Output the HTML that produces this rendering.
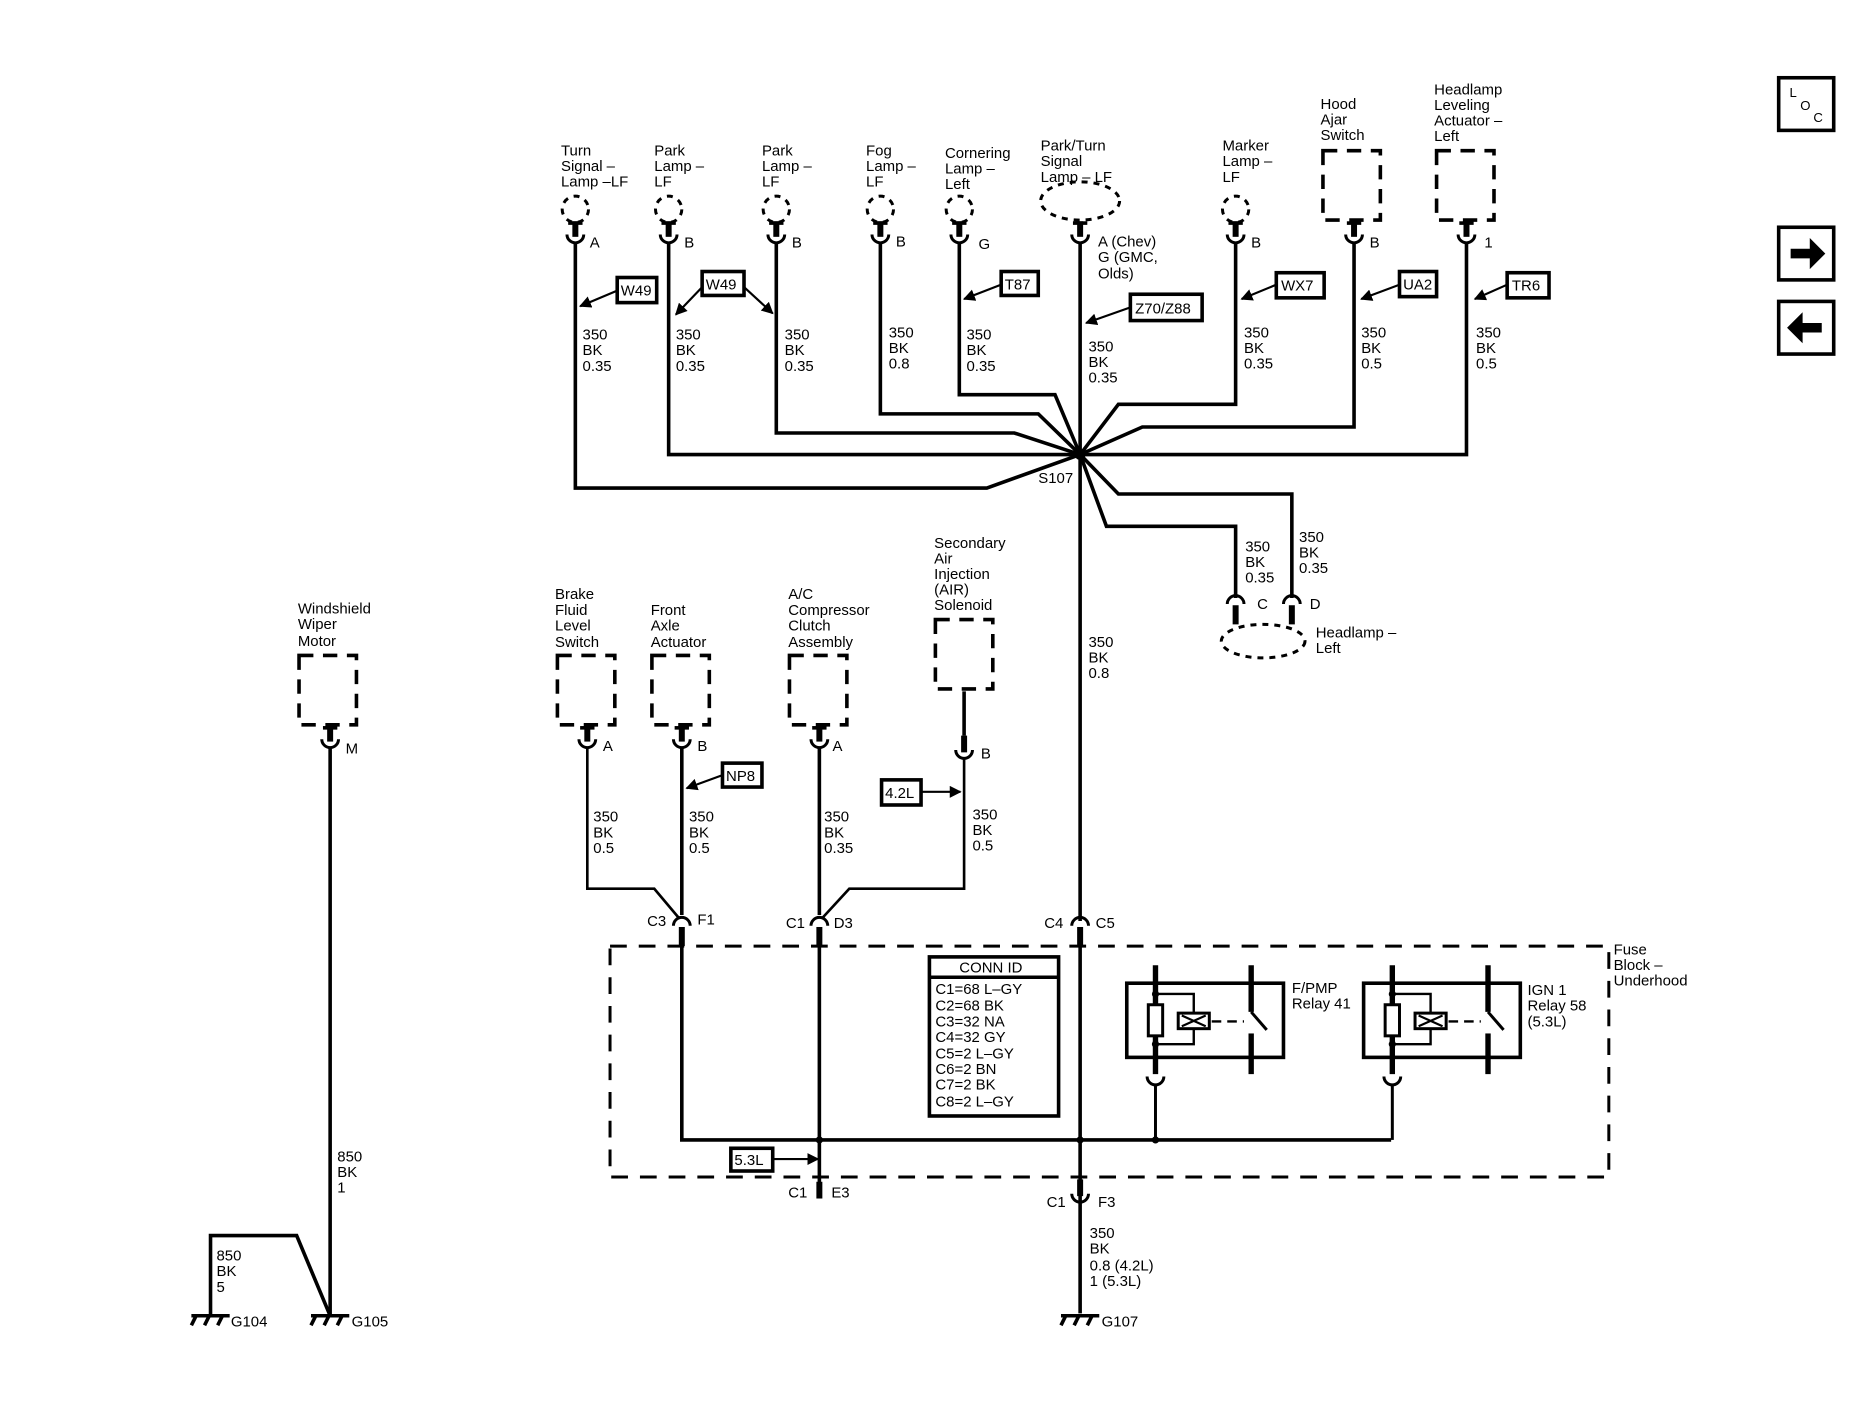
<!DOCTYPE html>
<html><head><meta charset="utf-8"><style>
html,body{margin:0;padding:0;background:#fff;}
svg{display:block;}
text{font-family:"Liberation Sans",Arial,sans-serif;font-size:12.5px;fill:#000;}
</style></head><body>
<svg width="1866" height="1407" viewBox="0 0 1560 1176.3" preserveAspectRatio="none" xmlns="http://www.w3.org/2000/svg">
<defs>
<g id="tc"><rect x="-6" y="-13" width="12" height="3"/><rect x="-2.5" y="-13" width="5" height="13"/><path d="M-7,-2 A7,7 0 0 0 7,-2" fill="none" stroke="#000" stroke-width="2.5"/></g>
<g id="bc"><path d="M-7,2 A7,7 0 0 1 7,2" fill="none" stroke="#000" stroke-width="2.5"/><rect x="-2.5" y="3" width="5" height="16"/></g>
<g id="uc"><rect x="-2.5" y="-14" width="5" height="14"/><path d="M-7,-2 A7,7 0 0 0 7,-2" fill="none" stroke="#000" stroke-width="2.5"/></g>
<g id="gnd"><line x1="-16" y1="0" x2="16" y2="0" stroke="#000" stroke-width="3"/><line x1="-12" y1="0" x2="-16" y2="8" stroke="#000" stroke-width="3"/><line x1="-1" y1="0" x2="-5" y2="8" stroke="#000" stroke-width="3"/><line x1="10" y1="0" x2="6" y2="8" stroke="#000" stroke-width="3"/></g>
<marker id="ah" viewBox="0 0 10 10" refX="9" refY="5" markerWidth="10" markerHeight="10" markerUnits="userSpaceOnUse" orient="auto"><path d="M0,0 L10,5 L0,10 z"/></marker>
</defs>

<rect x="1487" y="65" width="46" height="44" fill="none" stroke="#000" stroke-width="3"/>
<text x="1496" y="81" style="font-size:11px">L</text><text x="1505" y="92" style="font-size:11px">O</text><text x="1516" y="102" style="font-size:11px">C</text>
<rect x="1487" y="190" width="46" height="44" fill="none" stroke="#000" stroke-width="3"/>
<path d="M1497,208 h16 v-9 l13,13 -13,13 v-9 h-16 z"/>
<rect x="1487" y="252" width="46" height="44" fill="none" stroke="#000" stroke-width="3"/>
<path d="M1523,270 h-16 v-9 l-13,13 13,13 v-9 h16 z"/>

<text x="469" y="130">Turn</text><text x="469" y="143">Signal –</text><text x="469" y="156">Lamp –LF</text>
<text x="547" y="130">Park</text><text x="547" y="143">Lamp –</text><text x="547" y="156">LF</text>
<text x="637" y="130">Park</text><text x="637" y="143">Lamp –</text><text x="637" y="156">LF</text>
<text x="724" y="130">Fog</text><text x="724" y="143">Lamp –</text><text x="724" y="156">LF</text>
<text x="790" y="132">Cornering</text><text x="790" y="145">Lamp –</text><text x="790" y="158">Left</text>
<text x="870" y="126">Park/Turn</text><text x="870" y="139">Signal</text><text x="870" y="152">Lamp – LF</text>
<text x="1022" y="126">Marker</text><text x="1022" y="139">Lamp –</text><text x="1022" y="152">LF</text>
<text x="1104" y="91">Hood</text><text x="1104" y="104">Ajar</text><text x="1104" y="117">Switch</text>
<text x="1199" y="79">Headlamp</text><text x="1199" y="92">Leveling</text><text x="1199" y="105">Actuator –</text><text x="1199" y="118">Left</text>

<g fill="none" stroke="#000" stroke-width="2.5" stroke-dasharray="5,5">
<circle cx="481" cy="175" r="11"/><circle cx="559" cy="175" r="11"/><circle cx="649" cy="175" r="11"/>
<circle cx="736" cy="175" r="11"/><circle cx="802" cy="175" r="11"/><circle cx="1033" cy="175" r="11"/>
<ellipse cx="903" cy="168" rx="33" ry="16"/>
<ellipse cx="1056" cy="536" rx="35" ry="14"/>
</g>
<g fill="none" stroke="#000" stroke-width="3" stroke-dasharray="12,8">
<rect x="1106" y="126" width="48" height="58"/><rect x="1201" y="126" width="48" height="58"/>
<rect x="250" y="548" width="48" height="58"/>
<rect x="466" y="548" width="48" height="58"/><rect x="545" y="548" width="48" height="58"/><rect x="660" y="548" width="48" height="58"/>
<rect x="782" y="518" width="48" height="58"/>
<rect x="510" y="791" width="835" height="193" stroke-width="2.5" stroke-dasharray="14,10"/>
</g>

<use href="#tc" x="481" y="198"/><use href="#tc" x="559" y="198"/><use href="#tc" x="649" y="198"/>
<use href="#tc" x="736" y="198"/><use href="#tc" x="802" y="198"/><use href="#tc" x="903" y="198"/>
<use href="#tc" x="1033" y="198"/><use href="#tc" x="1132" y="198"/><use href="#tc" x="1226" y="198"/>
<text x="493" y="207">A</text><text x="572" y="207">B</text><text x="662" y="207">B</text><text x="749" y="206">B</text>
<text x="818" y="208">G</text><text x="918" y="206">A (Chev)</text><text x="918" y="219">G (GMC,</text><text x="918" y="233">Olds)</text>
<text x="1046" y="207">B</text><text x="1145" y="207">B</text><text x="1241" y="207">1</text>

<g fill="none" stroke="#000" stroke-width="3" stroke-linejoin="miter">
<path d="M481,203 V408 H825 L903,380"/>
<path d="M559,203 V380 H903"/>
<path d="M649,203 V362 H848 L903,380"/>
<path d="M736,203 V346 H868 L903,380"/>
<path d="M802,203 V330 H882 L903,380"/>
<path d="M903,203 V770"/>
<path d="M1033,203 V338 H935 L903,380"/>
<path d="M1132,203 V357 H955 L903,380"/>
<path d="M1226,203 V380 H903"/>
<path d="M903,380 L935,413 H1080 V500"/>
<path d="M903,380 L925,440 H1033 V500"/>
</g>
<circle cx="903" cy="380" r="4.5"/>
<text x="868" y="404">S107</text>

<use href="#bc" x="1033" y="503"/><use href="#bc" x="1080" y="503"/>
<text x="1051" y="509">C</text><text x="1095" y="509">D</text>
<text x="1100" y="533">Headlamp –</text><text x="1100" y="546">Left</text>
<text x="1041" y="461">350</text><text x="1041" y="474">BK</text><text x="1041" y="487">0.35</text>
<text x="1086" y="453">350</text><text x="1086" y="466">BK</text><text x="1086" y="479">0.35</text>

<g>
<text x="487" y="284">350</text><text x="487" y="297">BK</text><text x="487" y="310">0.35</text>
<text x="565" y="284">350</text><text x="565" y="297">BK</text><text x="565" y="310">0.35</text>
<text x="656" y="284">350</text><text x="656" y="297">BK</text><text x="656" y="310">0.35</text>
<text x="743" y="282">350</text><text x="743" y="295">BK</text><text x="743" y="308">0.8</text>
<text x="808" y="284">350</text><text x="808" y="297">BK</text><text x="808" y="310">0.35</text>
<text x="910" y="294">350</text><text x="910" y="307">BK</text><text x="910" y="320">0.35</text>
<text x="1040" y="282">350</text><text x="1040" y="295">BK</text><text x="1040" y="308">0.35</text>
<text x="1138" y="282">350</text><text x="1138" y="295">BK</text><text x="1138" y="308">0.5</text>
<text x="1234" y="282">350</text><text x="1234" y="295">BK</text><text x="1234" y="308">0.5</text>
<text x="910" y="541">350</text><text x="910" y="554">BK</text><text x="910" y="567">0.8</text>
</g>

<g fill="none" stroke="#000" stroke-width="3">
<rect x="516" y="232" width="33" height="21"/><rect x="587" y="227" width="35" height="20"/>
<rect x="837" y="227" width="31" height="20"/><rect x="945" y="246" width="60" height="22"/>
<rect x="1067" y="228" width="40" height="21"/><rect x="1170" y="227" width="31" height="21"/>
<rect x="1260" y="228" width="35" height="21"/>
<rect x="604" y="638" width="33" height="20"/><rect x="737" y="652" width="33" height="21"/>
<rect x="611" y="960" width="35" height="19"/>
</g>
<g stroke="#000" stroke-width="1.8" marker-end="url(#ah)">
<line x1="516" y1="243" x2="485" y2="256"/>
<line x1="587" y1="240" x2="565" y2="263"/><line x1="622" y1="240" x2="646" y2="262"/>
<line x1="837" y1="238" x2="806" y2="250"/><line x1="945" y1="257" x2="908" y2="270"/>
<line x1="1067" y1="238" x2="1038" y2="250"/><line x1="1170" y1="238" x2="1138" y2="250"/>
<line x1="1260" y1="238" x2="1233" y2="250"/>
<line x1="604" y1="648" x2="574" y2="659"/><line x1="770" y1="662" x2="803" y2="662"/>
<line x1="646" y1="969" x2="684" y2="969"/>
</g>
<g style="font-size:12px">
<text x="519" y="247">W49</text><text x="590" y="242">W49</text><text x="840" y="242">T87</text>
<text x="949" y="262">Z70/Z88</text><text x="1071" y="243">WX7</text><text x="1173" y="242">UA2</text>
<text x="1264" y="243">TR6</text><text x="607" y="653">NP8</text><text x="740" y="667">4.2L</text>
<text x="614" y="974">5.3L</text>
</g>

<text x="249" y="513">Windshield</text><text x="249" y="526">Wiper</text><text x="249" y="540">Motor</text>
<text x="464" y="501">Brake</text><text x="464" y="514">Fluid</text><text x="464" y="527">Level</text><text x="464" y="541">Switch</text>
<text x="544" y="514">Front</text><text x="544" y="527">Axle</text><text x="544" y="541">Actuator</text>
<text x="659" y="501">A/C</text><text x="659" y="514">Compressor</text><text x="659" y="527">Clutch</text><text x="659" y="541">Assembly</text>
<text x="781" y="458">Secondary</text><text x="781" y="471">Air</text><text x="781" y="484">Injection</text><text x="781" y="497">(AIR)</text><text x="781" y="510">Solenoid</text>

<use href="#tc" x="276" y="620"/><use href="#tc" x="491" y="620"/><use href="#tc" x="570" y="620"/><use href="#tc" x="685" y="620"/>
<use href="#uc" x="806" y="629"/>
<text x="289" y="630">M</text><text x="504" y="628">A</text><text x="583" y="628">B</text><text x="696" y="628">A</text><text x="820" y="634">B</text>

<g fill="none" stroke="#000" stroke-width="3">
<path d="M276,625 V1100"/>
<path d="M176,1100 V1033 H248 L276,1100"/>
<path d="M570,625 V765"/>
<path d="M685,625 V765"/>
<path d="M806,578 V615"/>
<path d="M570,790 V953 H1163"/>
<path d="M685,775 V990"/>
<path d="M903,775 V1098"/>
</g>
<g fill="none" stroke="#000" stroke-width="2.2">
<path d="M491,625 V743 H547 L568,768"/>
<path d="M806,634 V743 H710 L687,768"/>
</g>
<use href="#bc" x="570" y="772"/><use href="#bc" x="685" y="772"/><use href="#bc" x="903" y="772"/>
<text x="541" y="774">C3</text><text x="583" y="773">F1</text>
<text x="657" y="776">C1</text><text x="697" y="776">D3</text>
<text x="873" y="776">C4</text><text x="916" y="776">C5</text>

<text x="496" y="687">350</text><text x="496" y="700">BK</text><text x="496" y="713">0.5</text>
<text x="576" y="687">350</text><text x="576" y="700">BK</text><text x="576" y="713">0.5</text>
<text x="689" y="687">350</text><text x="689" y="700">BK</text><text x="689" y="713">0.35</text>
<text x="813" y="685">350</text><text x="813" y="698">BK</text><text x="813" y="711">0.5</text>

<rect x="777" y="800" width="108" height="133" fill="none" stroke="#000" stroke-width="3"/>
<line x1="777" y1="817" x2="885" y2="817" stroke="#000" stroke-width="3"/>
<text x="802" y="813">CONN ID</text>
<text x="782" y="831">C1=68 L–GY</text><text x="782" y="845">C2=68 BK</text><text x="782" y="858">C3=32 NA</text>
<text x="782" y="871">C4=32 GY</text><text x="782" y="885">C5=2 L–GY</text><text x="782" y="898">C6=2 BN</text>
<text x="782" y="911">C7=2 BK</text><text x="782" y="925">C8=2 L–GY</text>

<g id="r1">
<rect x="942" y="822" width="131" height="62" fill="none" stroke="#000" stroke-width="3"/>
<line x1="966" y1="807" x2="966" y2="898" stroke="#000" stroke-width="4.5"/>
<path d="M966,831 H998 V873 H966" fill="none" stroke="#000" stroke-width="2"/>
<circle cx="966" cy="831" r="3"/><circle cx="966" cy="873" r="3"/>
<rect x="960" y="840" width="12" height="26" fill="#fff" stroke="#000" stroke-width="2.5"/>
<rect x="985" y="847" width="26" height="13" fill="#fff" stroke="#000" stroke-width="2.5"/>
<path d="M988,849 L1008,858 M988,858 L1008,849" stroke="#000" stroke-width="1.8"/>
<line x1="1013" y1="854" x2="1040" y2="854" stroke="#000" stroke-width="2" stroke-dasharray="8,5"/>
<line x1="1046" y1="807" x2="1046" y2="846" stroke="#000" stroke-width="4.5"/>
<line x1="1046" y1="846" x2="1059" y2="861" stroke="#000" stroke-width="2.5"/>
<line x1="1046" y1="864" x2="1046" y2="898" stroke="#000" stroke-width="4.5"/>
<path d="M959,900 A7,7 0 0 0 973,900" fill="none" stroke="#000" stroke-width="2.5"/>
<line x1="966" y1="906" x2="966" y2="953" stroke="#000" stroke-width="2.5"/>
</g>
<use href="#r1" x="198" y="0"/>
<circle cx="685" cy="953" r="3"/><circle cx="903" cy="953" r="3"/><circle cx="966" cy="953" r="3"/>
<text x="1080" y="830">F/PMP</text><text x="1080" y="843">Relay 41</text>
<text x="1277" y="832">IGN 1</text><text x="1277" y="845">Relay 58</text><text x="1277" y="858">(5.3L)</text>
<text x="1349" y="798">Fuse</text><text x="1349" y="811">Block –</text><text x="1349" y="824">Underhood</text>

<rect x="682.5" y="988" width="5" height="14"/>
<text x="659" y="1001">C1</text><text x="695" y="1001">E3</text>
<use href="#uc" x="903" y="1000"/>
<text x="875" y="1009">C1</text><text x="918" y="1009">F3</text>
<text x="911" y="1035">350</text><text x="911" y="1048">BK</text><text x="911" y="1062">0.8 (4.2L)</text><text x="911" y="1075">1 (5.3L)</text>
<text x="282" y="971">850</text><text x="282" y="984">BK</text><text x="282" y="997">1</text>
<text x="181" y="1054">850</text><text x="181" y="1067">BK</text><text x="181" y="1080">5</text>
<use href="#gnd" x="176" y="1100"/><use href="#gnd" x="276" y="1100"/><use href="#gnd" x="903" y="1100"/>
<text x="193" y="1109">G104</text><text x="294" y="1109">G105</text><text x="921" y="1109">G107</text>
</svg>
</body></html>
